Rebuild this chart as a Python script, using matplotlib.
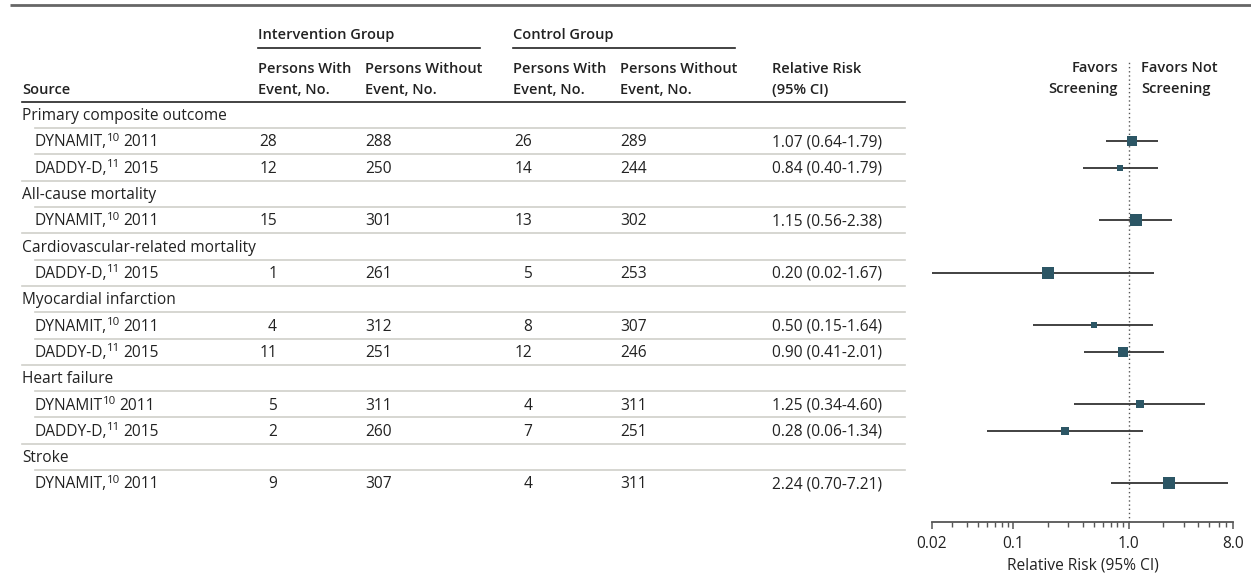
import matplotlib
matplotlib.use("Agg")
import matplotlib.pyplot as plt
from matplotlib.ticker import FixedLocator, NullFormatter, FixedFormatter

FONT = "Open Sans"
plt.rcParams["font.family"] = [FONT, "DejaVu Sans"]

# ---- data -------------------------------------------------------------
outcomes = [
    "Primary composite outcome",
    "All-cause mortality",
    "Cardiovascular-related mortality",
    "Myocardial infarction",
    "Heart failure",
    "Stroke",
]
study_outcome = [0, 0, 1, 2, 3, 3, 4, 4, 5]
study_names = ["DYNAMIT,", "DADDY-D,", "DYNAMIT,", "DADDY-D,", "DYNAMIT,",
               "DADDY-D,", "DYNAMIT", "DADDY-D,", "DYNAMIT,"]
study_refs = ["10", "11", "10", "11", "10", "11", "10", "11", "10"]
study_years = [2011, 2015, 2011, 2015, 2011, 2015, 2011, 2015, 2011]
int_with = [28, 12, 15, 1, 4, 11, 5, 2, 9]
int_without = [288, 250, 301, 261, 312, 251, 311, 260, 307]
ctl_with = [26, 14, 13, 5, 8, 12, 4, 7, 4]
ctl_without = [289, 244, 302, 253, 307, 246, 311, 251, 311]
rr = [1.07, 0.84, 1.15, 0.20, 0.50, 0.90, 1.25, 0.28, 2.24]
ci_lo = [0.64, 0.40, 0.56, 0.02, 0.15, 0.41, 0.34, 0.06, 0.70]
ci_hi = [1.79, 1.79, 2.38, 1.67, 1.64, 2.01, 4.60, 1.34, 7.21]

major_ticks = [0.02, 0.1, 1.0, 8.0]
major_labels = ["0.02", "0.1", "1.0", "8.0"]
minor_ticks = [0.03, 0.04, 0.05, 0.06, 0.07, 0.08, 0.09,
               0.2, 0.3, 0.4, 0.5, 0.6, 0.7, 0.8, 0.9,
               2, 3, 4, 5, 6, 7]

# ---- styling / layout -------------------------------------------------
box_px = [9.5, 6.5, 11.5, 11.5, 6.7, 10, 8.3, 7.7, 11.7]   # square side, px
TXT = "#222222"
SEP = "#cfcfca"
BOX = "#2c5665"
FS = 11.2
FSB = 10.5
FSS = 8.2           # superscript size
W, H = 1251, 573
ROW0, ROWH = 115.0, 26.3
BASE = 5.2          # baseline offset below row centre, px
X_SRC, X_IND = 22, 35
X_IW_R, X_IWO = 277, 365
X_CW_R, X_CWO = 532, 620
X_RR = 772
X_TAB_END = 905

fig = plt.figure(figsize=(W / 100, H / 100), dpi=100)
ax = fig.add_axes([0, 0, 1, 1])
ax.set_xlim(0, W)
ax.set_ylim(H, 0)
ax.axis("off")
renderer = fig.canvas.get_renderer()

# top rule
ax.plot([10, W], [5, 5], color="#666666", lw=2, solid_capstyle="butt")

# column headers
bold = dict(fontsize=FSB, fontweight="semibold", color=TXT, va="center")
ax.text(258, 35, "Intervention Group", ha="left", **bold)
ax.plot([258, 480], [47.5, 47.5], color=TXT, lw=1.2)
ax.text(513, 35, "Control Group", ha="left", **bold)
ax.plot([513, 735], [47.5, 47.5], color=TXT, lw=1.2)
ax.text(X_SRC, 90, "Source", ha="left", **bold)
for x in (258, 513):
    ax.text(x, 69, "Persons With", ha="left", **bold)
    ax.text(x, 90, "Event, No.", ha="left", **bold)
for x in (X_IWO, X_CWO):
    ax.text(x, 69, "Persons Without", ha="left", **bold)
    ax.text(x, 90, "Event, No.", ha="left", **bold)
ax.text(X_RR, 69, "Relative Risk", ha="left", **bold)
ax.text(X_RR, 90, "(95% CI)", ha="left", **bold)
ax.plot([X_SRC, X_TAB_END], [102, 102], color=TXT, lw=1.2)


def study_label(x, yb, name, ref, year):
    """Study name with a superscript reference number, then the year."""
    t = ax.text(x, yb, name, ha="left", **reg)
    x1 = t.get_window_extent(renderer).x1 - 0.5
    s = ax.text(x1, yb - 5.5, ref, ha="left", fontsize=FSS, color=TXT, va="baseline")
    x2 = s.get_window_extent(renderer).x1 + 3.5
    ax.text(x2, yb, str(year), ha="left", **reg)


# rows
reg = dict(fontsize=FS, color=TXT, va="baseline")
row = 0
study_rows = []
prev = -1
for k in range(len(study_names)):
    o = study_outcome[k]
    if o != prev:
        y = ROW0 + row * ROWH
        ax.text(X_SRC, y + BASE, outcomes[o], ha="left", **reg)
        if row > 0:
            ax.plot([X_SRC, X_TAB_END], [y - ROWH / 2] * 2, color=SEP, lw=1.2)
        row += 1
        prev = o
    y = ROW0 + row * ROWH
    yb = y + BASE
    study_rows.append(y)
    ax.plot([X_IND, X_TAB_END], [y - ROWH / 2] * 2, color=SEP, lw=1.2)
    study_label(X_IND, yb, study_names[k], study_refs[k], study_years[k])
    ax.text(X_IW_R, yb, str(int_with[k]), ha="right", **reg)
    ax.text(X_IWO, yb, str(int_without[k]), ha="left", **reg)
    ax.text(X_CW_R, yb, str(ctl_with[k]), ha="right", **reg)
    ax.text(X_CWO, yb, str(ctl_without[k]), ha="left", **reg)
    ax.text(X_RR, yb, f"{rr[k]:.2f} ({ci_lo[k]:.2f}-{ci_hi[k]:.2f})", ha="left", **reg)
    row += 1

# ---- forest plot ------------------------------------------------------
FX0, FX1 = 932, 1233
FY_TOP, FY_BOT = 62, 522
fx = fig.add_axes([FX0 / W, (H - FY_BOT) / H, (FX1 - FX0) / W, (FY_BOT - FY_TOP) / H])
fx.set_xscale("log")
fx.set_xlim(major_ticks[0], major_ticks[-1])
fx.set_ylim(FY_BOT, FY_TOP)
fx.patch.set_alpha(0)
for s in ("top", "right", "left"):
    fx.spines[s].set_visible(False)
fx.spines["bottom"].set_color("#555555")
fx.spines["bottom"].set_linewidth(1.3)
fx.set_yticks([])
fx.xaxis.set_major_locator(FixedLocator(major_ticks))
fx.xaxis.set_major_formatter(FixedFormatter(major_labels))
fx.xaxis.set_minor_locator(FixedLocator(minor_ticks))
fx.xaxis.set_minor_formatter(NullFormatter())
fx.tick_params(axis="x", which="major", length=5, width=1.1, color="#555555",
               labelsize=FS, labelcolor=TXT, pad=5)
fx.tick_params(axis="x", which="minor", length=3.5, width=1.0, color="#555555")
fx.set_xlabel("Relative Risk (95% CI)", fontsize=FS, color=TXT, labelpad=4)

fx.axvline(1.0, color="#555555", lw=1.0, ls=(0, (1, 2)), zorder=1)

for k, y in enumerate(study_rows):
    fx.plot([ci_lo[k], ci_hi[k]], [y, y], color="#333333", lw=1.3, zorder=2,
            solid_capstyle="butt")
    fx.plot([rr[k]], [y], marker="s", ms=box_px[k] * 0.72, color=BOX,
            mec=BOX, mew=0, zorder=3, clip_on=False)

hdr = {k: v for k, v in bold.items() if k != "va"}
fig.text(1118 / W, 1 - 68 / H, "Favors", ha="right", va="center", **hdr)
fig.text(1118 / W, 1 - 89 / H, "Screening", ha="right", va="center", **hdr)
fig.text(1141 / W, 1 - 68 / H, "Favors Not", ha="left", va="center", **hdr)
fig.text(1141 / W, 1 - 89 / H, "Screening", ha="left", va="center", **hdr)

fig.savefig("out.png", dpi=100)
